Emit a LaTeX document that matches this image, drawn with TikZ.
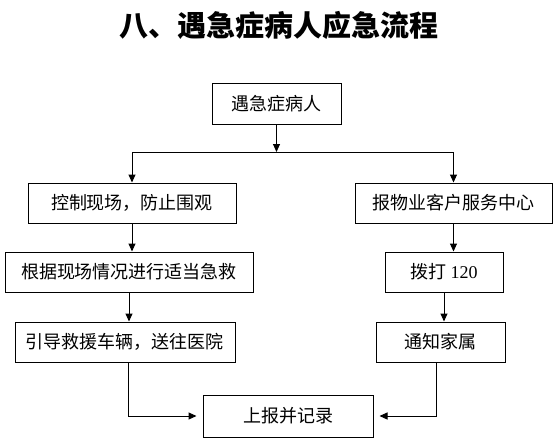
\documentclass[tikz,border=0pt]{standalone}
\usepackage{fontspec}
\setmainfont{Noto Sans CJK SC}
\newfontfamily\tnr{Liberation Serif}
\usetikzlibrary{arrows.meta}
\begin{document}
\begin{tikzpicture}[x=1pt,y=-1pt,
  box/.style={draw,line width=1pt,minimum height=40pt,inner sep=0pt,font=\fontsize{18}{21}\selectfont},
  conn/.style={line width=1pt,-{Triangle[length=8pt,width=7pt]}},
  plain/.style={line width=1pt}]
\useasboundingbox (0,0) rectangle (558,440);
\node[font=\fontsize{29}{33}\selectfont\bfseries] (title) at (279,25) {八、遇急症病人应急流程};
\node[box,minimum width=129pt,minimum height=41pt] (b1) at (276.5,103.5) {遇急症病人};
\node[box,minimum width=208pt] (l2) at (132,203) {控制现场，防止围观};
\node[box,minimum width=197pt] (r2) at (453.5,203) {报物业客户服务中心};
\node[box,minimum width=248pt] (l3) at (129,272) {根据现场情况进行适当急救};
\node[box,minimum width=118pt] (r3) at (444,272) {拨打 {\tnr 120}};
\node[box,minimum width=220pt] (l4) at (125,342) {引导救援车辆，送往医院};
\node[box,minimum width=129pt] (r4) at (440.5,342) {通知家属};
\node[box,minimum width=170pt,minimum height=42pt] (b) at (288,416) {上报并记录};
\coordinate (j) at (276.5,152);
\draw[conn] (b1.south) -- (j);
\draw[plain] (l2.north |- j) -- (r2.north |- j);
\draw[conn] (l2.north |- j) -- (l2.north);
\draw[conn] (r2.north |- j) -- (r2.north);
\draw[conn] (l2.south) -- (l2.south |- l3.north);
\draw[conn] (r2.south) -- (r2.south |- r3.north);
\draw[conn] (l3.south) -- (l3.south |- l4.north);
\draw[conn] (r3.south) -- (r3.south |- r4.north);
\draw[conn,shorten >=6pt] ([xshift=3pt]l4.south) |- (b.west);
\draw[conn,shorten >=6pt] ([xshift=-4pt]r4.south) |- (b.east);
\end{tikzpicture}
\end{document}
